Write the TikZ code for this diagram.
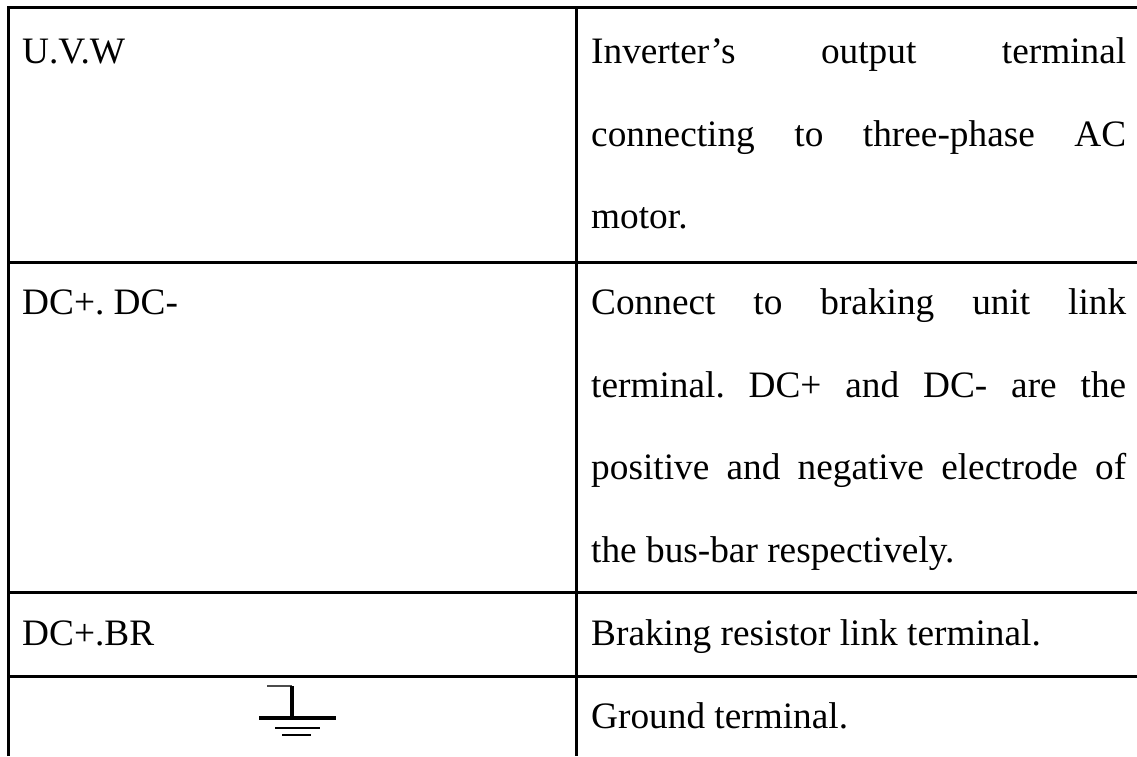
\documentclass[tikz,border=0pt]{standalone}
\usepackage{fontspec}
\setmainfont{Liberation Serif}
\frenchspacing
\begin{document}
\begin{tikzpicture}[x=1pt,y=-1pt,
  rule/.style={line width=3pt},
  cell/.style={anchor=base west,inner sep=0pt,font=\fontsize{37.3}{83}\selectfont},
  gnd/.style={line width=3.2pt}]
\useasboundingbox (0,0) rectangle (1137,756);
% table frame
\draw[rule] (8,756) -- (8,7) -- (1137,7);
\draw[rule] (576,7) -- (576,756);
\draw[rule] (8,262) -- (1137,262);
\draw[rule] (8,592) -- (1137,592);
\draw[rule] (8,676) -- (1137,676);
% left column
\node[cell] (uvw) at (22,63) {U.V.W};
\node[cell] (dc) at (22,314) {DC+. DC-};
\node[cell] (br) at (22,645) {DC+.BR};
% right column (justified lines)
\def\colw{535pt}
\node[cell] (d1a) at (591,63) {\makebox[\colw][s]{Inverter's output terminal}};
\node[cell] (d1b) at (591,146) {\makebox[\colw][s]{connecting to three-phase AC}};
\node[cell] (d1c) at (591,228) {motor.};
\node[cell] (d2a) at (591,314) {\makebox[\colw][s]{Connect to braking unit link}};
\node[cell] (d2b) at (591,397) {\makebox[\colw][s]{terminal. DC+ and DC- are the}};
\node[cell] (d2c) at (591,479) {\makebox[\colw][s]{positive and negative electrode of}};
\node[cell] (d2d) at (591,562) {the bus-bar respectively.};
\node[cell] (d3) at (591,645) {Braking resistor link terminal.};
\node[cell] (d4) at (591,728) {Ground terminal.};
% ground symbol
\draw[line width=1.4pt,black!70] (267,686) -- (292,686);
\draw[gnd] (292,686) -- (292,718);
\draw[gnd] (259,718) -- (336,718);
\draw[line width=2.8pt] (275,728) -- (320,728);
\draw[line width=2.8pt] (282,735) -- (311,735);
\end{tikzpicture}
\end{document}
